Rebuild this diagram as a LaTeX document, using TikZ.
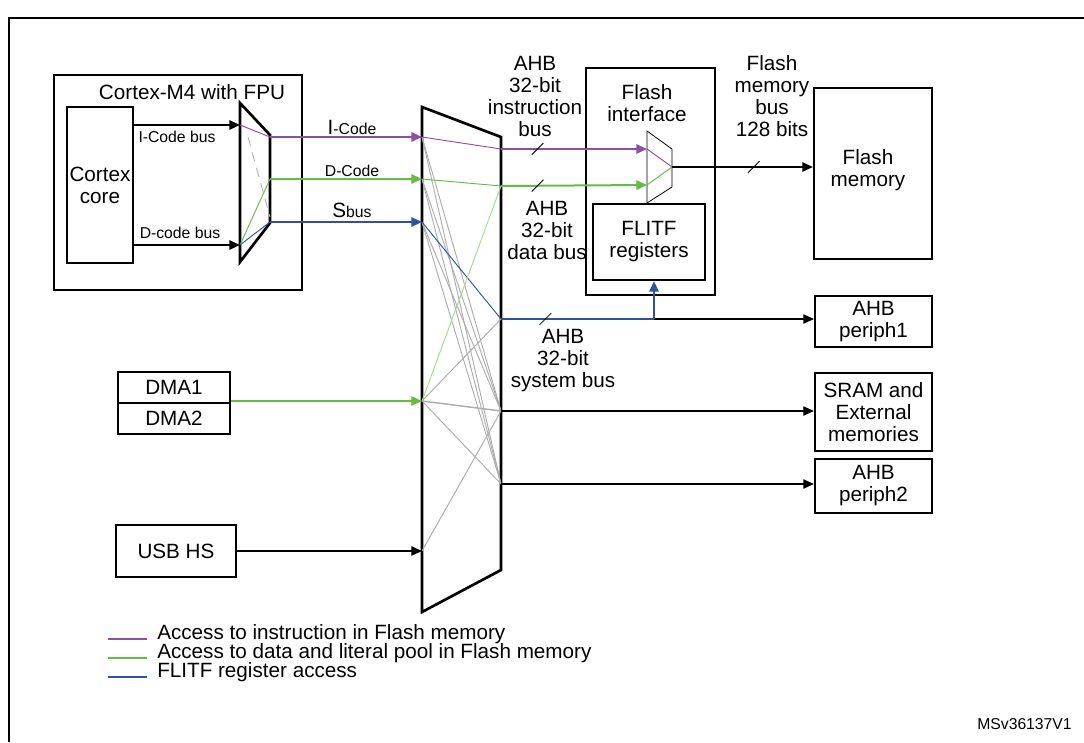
\documentclass[tikz,border=0pt]{standalone}
\usepackage{fontspec}
\setmainfont{Liberation Sans}
\usetikzlibrary{arrows.meta,positioning,calc}

\definecolor{ibus}{HTML}{8B50A4}
\definecolor{dbus}{HTML}{66BB46}
\definecolor{sbus}{HTML}{2F52A0}
\definecolor{litegreen}{HTML}{A8DA8C}
\newcommand{\smalltxt}{\fontsize{11.8}{13}\selectfont}

\begin{document}
\begin{tikzpicture}[
    x=0.75pt, y=-0.75pt,
    font=\fontsize{15.5}{16.5}\selectfont,
    small/.style={font=\smalltxt},
    box/.style={draw, line width=1.6pt, inner sep=0pt, align=center},
    txt/.style={align=center, inner sep=0pt},
    arr/.style={-{Triangle[length=8pt,width=7pt]}, line width=1.4pt},
    thinarr/.style={-{Triangle[length=8pt,width=7pt]}, line width=0.9pt},
    bus/.style={-{Triangle[length=8pt,width=7pt]}, line width=1.5pt},
    xbar/.style={line width=0.7pt, draw=gray!65},
    buswidth/.style={minimum size=12*.75pt, inner sep=0pt,
        path picture={\draw[black, -, line width=0.6pt]
            (path picture bounding box.south west) --
            (path picture bounding box.north east);}},
]
\useasboundingbox (0,0) rectangle (1084,742);

% frame
\draw[line width=1.5pt] (9,742) |- (1084,18);

% Cortex-M4
\node[box, minimum width=248*.75pt, minimum height=215*.75pt] (m4) at (178,182.5) {};
\node[txt] (m4title) at (192,92) {Cortex-M4 with FPU};
\node[box, line width=1.4pt, minimum width=66*.75pt, minimum height=156*.75pt]
    (core) at (100,185) {Cortex\\core};

\draw[line width=2pt] (240,103) -- (270,135) -- (270,223) -- (240,262) -- cycle;
\coordinate (cmuxI) at (240,125);
\coordinate (cmuxD) at (240,245);
\coordinate (cmuxIo) at (270,137);
\coordinate (cmuxDo) at (270,179);
\coordinate (cmuxSo) at (270,222);

\draw[arr] (core.east |- cmuxI) -- (cmuxI);
\draw[arr] (core.east |- cmuxD) -- (cmuxD);
\node[txt, small] (icodebus) at (177,137) {I-Code bus};
\node[txt, small] (dcodebus) at (180,233) {D-code bus};

\draw[ibus, line width=0.7pt] (cmuxI) -- (cmuxIo);
\draw[dbus, line width=0.7pt] (cmuxD) -- (cmuxDo);
\draw[sbus, line width=0.7pt] (cmuxD) -- (cmuxSo);
\draw[gray!60, line width=0.7pt, dash pattern=on 7pt off 5pt] (248,137) -- (270,217);

% bus matrix
\draw[line width=2pt] (422,107) -- (501,137) -- (501,570) -- (422,612) -- cycle;
\coordinate (bmI) at (422,137);
\coordinate (bmD) at (422,179);
\coordinate (bmS) at (422,222);
\coordinate (bmDMA) at (422,401);
\coordinate (bmUSB) at (422,551);
\coordinate (boI) at (501,149);
\coordinate (boD) at (501,186);
\coordinate (boSys) at (501,319);
\coordinate (boSRAM) at (501,411);
\coordinate (boP2) at (501,484);

\foreach \src in {bmI,bmD,bmS}
    \foreach \dst in {boSRAM,boP2}
        \draw[xbar] (\src) -- (\dst);
\foreach \dst in {boSys,boP2}
    \draw[xbar] (bmDMA) -- (\dst);
\draw[xbar, line width=1.1pt] (bmDMA) -- (boSRAM);
\draw[xbar] (bmUSB) -- (boSRAM);
\draw[ibus, line width=0.7pt] (bmI) -- (boI);
\draw[dbus, line width=0.7pt] (bmD) -- (boD);
\draw[sbus, line width=0.7pt] (bmS) -- (boSys);
\draw[litegreen, line width=0.7pt] (bmDMA) -- (boD);

% Cortex buses into the matrix
\draw[bus, ibus] (cmuxIo) -- (bmI);
\draw[bus, dbus] (cmuxDo) -- (bmD);
\draw[bus, sbus] (cmuxSo) -- (bmS);
\node[txt] (icode) at (352,127) {I{\smalltxt -Code}};
\node[txt, small] (dcode) at (352,171) {D-Code};
\node[txt] (sbuslbl) at (352,210) {S{\smalltxt bus}};

% Flash interface
\node[box, minimum width=129*.75pt, minimum height=227*.75pt] (flashif) at (650.5,181.5) {};
\node[txt] (flashiflbl) at (647,103) {Flash\\interface};
\node[box, minimum width=112*.75pt, minimum height=76*.75pt] (flitf) at (649,242) {FLITF\\registers};
\draw[line width=0.6pt] (647,131) -- (672,149) -- (672,187) -- (647,203) -- cycle;
\coordinate (fmI) at (647,149);
\coordinate (fmD) at (647,185);
\coordinate (fmOut) at (672,167);
\draw[ibus, line width=0.7pt] (fmI) -- (fmOut);
\draw[dbus, line width=0.7pt] (fmD) -- (fmOut);

\draw[bus, ibus] (boI) -- node[pos=.25, buswidth] (iw) {} (fmI);
\draw[bus, dbus] (boD) -- node[pos=.25, buswidth] (dw) {} (fmD);
\node[txt] (ahbi) at (535,96.5) {AHB\\32-bit\\instruction\\bus};
\node[txt] (ahbd) at (547,230.5) {AHB\\32-bit\\data bus};

% Flash memory
\node[box, minimum width=118*.75pt, minimum height=171*.75pt] (flashmem) at (873,173.5) {};
\node[txt] (flashmemlbl) at (868,170) {Flash\\memory};
\draw[arr] (fmOut) -- node[pos=.58, buswidth] (fw) {} (flashmem.west |- fmOut);
\node[txt] (fmbus) at (772,96.5) {Flash\\memory\\bus\\128 bits};

% AHB slaves
\node[box, minimum width=117*.75pt, minimum height=51*.75pt] (periph1) at (873.5,321.5) {AHB\\periph1};
\node[box, minimum width=117*.75pt, minimum height=78*.75pt] (sram) at (873.5,412) {SRAM and\\External\\memories};
\node[box, minimum width=117*.75pt, minimum height=54*.75pt] (periph2) at (873.5,486) {AHB\\periph2};

\coordinate (junc) at (654,319);
\draw[thinarr] (junc) -- (periph1.west |- junc);
\draw[sbus, line width=1.5pt] (boSys) -- node[pos=.29, buswidth] (sw) {} (junc);
\draw[bus, sbus] (junc) -- (flitf.south -| junc);
\node[txt] (ahbs) at (563,361) {AHB\\32-bit\\system bus};
\draw[thinarr] (boSRAM) -- (sram.west |- boSRAM);
\draw[thinarr] (boP2) -- (periph2.west |- boP2);

% masters
\node[box, line width=1.3pt, minimum width=112*.75pt, minimum height=31*.75pt] (dma1) at (174,387.5) {DMA1};
\node[box, line width=1.3pt, minimum width=112*.75pt, minimum height=31*.75pt] (dma2) at (174,418.5) {DMA2};
\node[box, line width=1.3pt, minimum width=120*.75pt, minimum height=52*.75pt] (usb) at (176,551) {USB HS};
\draw[thinarr, draw=dbus, fill=dbus, line width=0.9pt] (dma1.east |- bmDMA) -- (bmDMA);
\draw[thinarr] (usb.east) -- (bmUSB);

% legend
\node[txt, anchor=west] (leg1) at (157,634) {Access to instruction in Flash memory};
\node[txt, anchor=west] (leg2) at (157,653) {Access to data and literal pool in Flash memory};
\node[txt, anchor=west] (leg3) at (157,672) {FLITF register access};
\draw[ibus, line width=1.5pt] (108,639) -- (147,639);
\draw[dbus, line width=1.5pt] (108,658) -- (147,658);
\draw[sbus, line width=1.5pt] (108,677) -- (147,677);

\node[txt, small, anchor=east] (msv) at (1072,724) {MSv36137V1};

\end{tikzpicture}
\end{document}
